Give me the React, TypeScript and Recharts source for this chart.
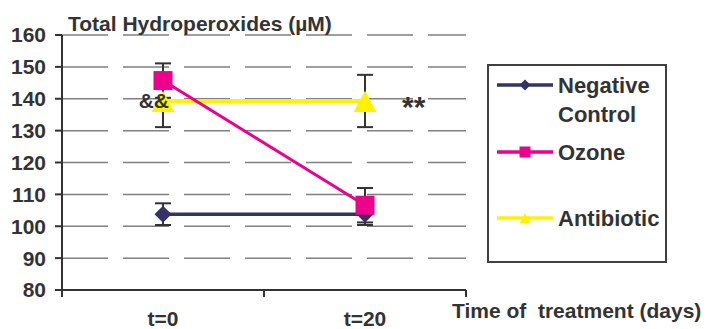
import React from "react";
import {
  LineChart,
  Line,
  XAxis,
  YAxis,
  CartesianGrid,
  ErrorBar,
  LabelList,
  Label,
} from "recharts";

const categories = ["t=0", "t=20"];
const negativeControl = [103.8, 103.8];
const negativeErr = [3.4, 3.4];
const ozone = [145.7, 106.6];
const ozoneErr = [5.4, 5.4];
const antibiotic = [139.3, 139.3];
const antibioticErr = [8.2, 8.2];
const annotations = ["&&", "**"];
const yTicks = [80, 90, 100, 110, 120, 130, 140, 150, 160];

const FONT = "'Liberation Sans', Arial, sans-serif";
const TEXT = "#333333";

const data = categories.map((c, i) => ({
  x: i + 0.5,
  label: c,
  neg: negativeControl[i],
  negErr: negativeErr[i],
  ozone: ozone[i],
  ozoneErr: ozoneErr[i],
  anti: antibiotic[i],
  antiErr: antibioticErr[i],
  note: annotations[i],
}));

const Diamond = ({ cx, cy, size = 8.5, color }: any) =>
  cx == null ? null : (
    <path
      d={`M${cx},${cy - size}L${cx + size},${cy}L${cx},${cy + size}L${cx - size},${cy}Z`}
      fill={color}
    />
  );

const Square = ({ cx, cy, size = 9.5, color }: any) =>
  cx == null ? null : (
    <rect x={cx - size} y={cy - size} width={size * 2} height={size * 2} fill={color} />
  );

const Triangle = ({ cx, cy, size = 11.5, color }: any) =>
  cx == null ? null : (
    <path
      d={`M${cx},${cy - size * 0.9}L${cx + size},${cy + size * 0.95}L${cx - size},${cy + size * 0.95}Z`}
      fill={color}
    />
  );

const series = [
  { key: "neg", name: ["Negative", "Control"], color: "#333366", shape: Diamond },
  { key: "ozone", name: ["Ozone"], color: "#EC008C", shape: Square },
  { key: "anti", name: ["Antibiotic"], color: "#FFF200", shape: Triangle },
];

const XTick = ({ x, y, payload }: any) => {
  const v = payload.value;
  if (Number.isInteger(v)) {
    return <line x1={x} x2={x} y1={y} y2={y + 7} stroke="#333" strokeWidth={2} />;
  }
  return (
    <text x={x} y={y + 36} textAnchor="middle" fontFamily={FONT} fontWeight="bold" fontSize={21} fill={TEXT}>
      {categories[Math.floor(v)]}
    </text>
  );
};

const NoteLabel = ({ x, y, value, index }: any) =>
  index === 0 ? (
    <text x={x + 6} y={y + 7} textAnchor="end" fontFamily={FONT} fontWeight="bold" fontSize={21} fill={TEXT}>
      {value}
    </text>
  ) : (
    <text x={x + 37} y={y + 16} textAnchor="start" fontFamily={FONT} fontWeight="bold" fontSize={30} fill={TEXT}>
      {value}
    </text>
  );

const legendRows = [19, 86, 152];

export default function App() {
  return (
    <div style={{ position: "absolute", left: 0, top: 0, width: 707, height: 329, background: "#fff" }}>
      <LineChart width={707} height={329} data={data} margin={{ top: 35, right: 241, bottom: 0, left: 0 }}>
        <CartesianGrid vertical={false} stroke="#808080" strokeWidth={1.5} strokeDasharray="46 15" />
        <XAxis
          dataKey="x"
          type="number"
          domain={[0, 2]}
          ticks={[0, 0.5, 1, 1.5, 2]}
          tick={<XTick />}
          tickLine={false}
          tickSize={0}
          tickMargin={0}
          height={39}
          axisLine={{ stroke: "#333", strokeWidth: 2 }}
          interval={0}
        >
          <Label
            content={({ viewBox }: any) => (
              <text
                x={viewBox.x + viewBox.width - 14}
                y={viewBox.y + 28}
                fontFamily={FONT}
                fontWeight="bold"
                fontSize={21}
                fill={TEXT}
              >
                {"Time of\u00a0 treatment (days)"}
              </text>
            )}
          />
        </XAxis>
        <XAxis
          xAxisId="top"
          orientation="top"
          type="number"
          domain={[0, 2]}
          tick={false}
          tickLine={false}
          height={0}
          axisLine={{ stroke: "#404040", strokeWidth: 2 }}
        />
        <YAxis
          domain={[80, 160]}
          ticks={yTicks}
          interval={0}
          width={62}
          tickSize={7}
          tickMargin={9}
          tick={{ fontFamily: FONT, fontWeight: "bold", fontSize: 21, fill: TEXT }}
          tickLine={{ stroke: "#333", strokeWidth: 2 }}
          axisLine={{ stroke: "#333", strokeWidth: 2 }}
        >
          <Label
            content={({ viewBox }: any) => (
              <text
                x={viewBox.x + viewBox.width + 6}
                y={viewBox.y - 4}
                fontFamily={FONT}
                fontWeight="bold"
                fontSize={21}
                fill={TEXT}
              >
                Total Hydroperoxides (µM)
              </text>
            )}
          />
        </YAxis>
        <YAxis
          yAxisId="right"
          orientation="right"
          domain={[80, 160]}
          tick={false}
          tickLine={false}
          width={0}
          axisLine={{ stroke: "#404040", strokeWidth: 2 }}
        />
        <Line
          dataKey="neg"
          stroke="#333366"
          strokeWidth={3.5}
          isAnimationActive={false}
          dot={<Diamond color="#333366" />}
          activeDot={false}
        >
          <ErrorBar dataKey="negErr" stroke="#333" strokeWidth={2} width={8} direction="y" />
        </Line>
        <Line
          dataKey="anti"
          stroke="#FFF200"
          strokeWidth={4}
          isAnimationActive={false}
          dot={<Triangle color="#FFF200" />}
          activeDot={false}
        >
          <ErrorBar dataKey="antiErr" stroke="#333" strokeWidth={2} width={8} direction="y" />
          <LabelList dataKey="note" content={<NoteLabel />} />
        </Line>
        <Line
          dataKey="ozone"
          stroke="#EC008C"
          strokeWidth={3}
          isAnimationActive={false}
          dot={<Square color="#EC008C" />}
          activeDot={false}
        >
          <ErrorBar dataKey="ozoneErr" stroke="#333" strokeWidth={2} width={8} direction="y" />
        </Line>
      </LineChart>
      <div
        style={{
          position: "absolute",
          left: 487,
          top: 64,
          width: 176,
          height: 195,
          border: "2px solid #404040",
          fontFamily: FONT,
          fontWeight: "bold",
          fontSize: 22,
          color: TEXT,
        }}
      >
        {series.map((s, i) => {
          const Shape = s.shape;
          return (
            <div key={s.key} style={{ position: "absolute", left: 0, top: legendRows[i] - 14, width: 176 }}>
              <svg width={62} height={28} style={{ position: "absolute", left: 6, top: 0 }}>
                <line x1={2} x2={58} y1={14} y2={14} stroke={s.color} strokeWidth={3.5} />
                <Shape cx={30} cy={14} size={5.5} color={s.color} />
              </svg>
              <div style={{ position: "absolute", left: 69, top: 0, lineHeight: "29px" }}>
                {s.name.map((n) => (
                  <div key={n}>{n}</div>
                ))}
              </div>
            </div>
          );
        })}
      </div>
    </div>
  );
}
